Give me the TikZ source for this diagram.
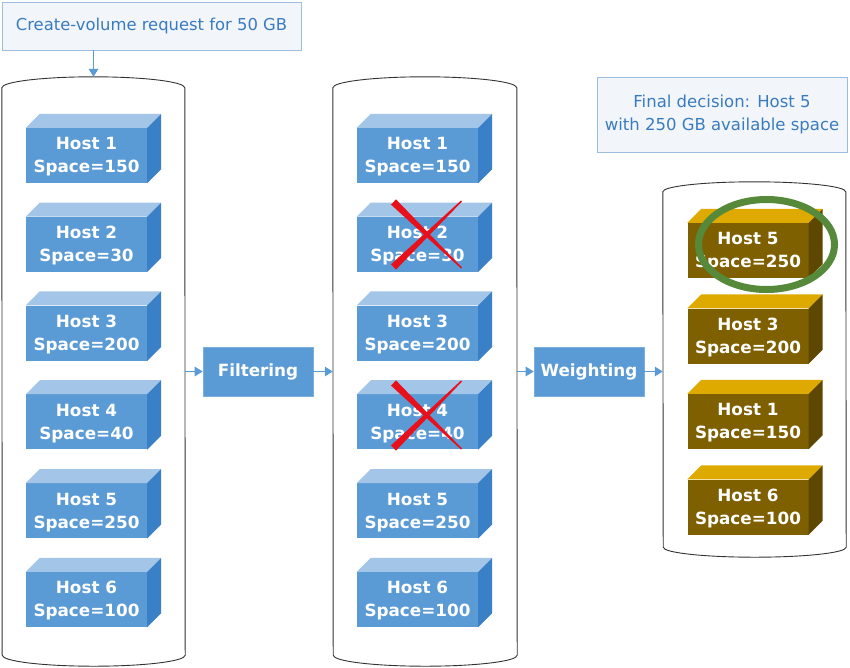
\documentclass[tikz,border=0pt]{standalone}
\usepackage{fontspec}
\setmainfont{DejaVu Sans}
\usetikzlibrary{arrows.meta,calc}
\definecolor{hbfront}{HTML}{5B9BD5}
\definecolor{hbtop}{HTML}{A2C5E8}
\definecolor{hbside}{HTML}{3A80C6}
\definecolor{hgfront}{HTML}{7F6000}
\definecolor{hgtop}{HTML}{DFAA00}
\definecolor{hgside}{HTML}{5E4700}
\definecolor{txtblue}{HTML}{3A7BBF}
\definecolor{boxborder}{HTML}{9DBDE0}
\definecolor{boxfill}{HTML}{F2F6FB}
\definecolor{arrblue}{HTML}{5B9BD5}
\definecolor{xred}{HTML}{E8101A}
\definecolor{okgreen}{HTML}{568A3A}
\definecolor{cylline}{HTML}{333333}

\newcommand{\hostcube}[6]{% name, x, y, label, palette prefix, unused
  \node[hostfront, fill=#5front] (#1) at (#2,#3) {};
  \fill[#5top] (#1.north west) -- ++(14,-14) -- ($(#1.north east)+(14,-14)$) -- (#1.north east) -- cycle;
  \fill[#5side] (#1.north east) -- ++(14,-14) -- ($(#1.south east)+(14,-14)$) -- (#1.south east) -- cycle;
  \node[hostlabel] (#1t) at ($(#1.center)+(0,1.5)$) {#4};
}
\newcommand{\taperstroke}[3]{% start, end, thick half width
  \fill[xred] ($(#1)!#3!90:(#2)$) -- ($(#2)!0.7pt!-90:(#1)$) -- ($(#2)!0.7pt!90:(#1)$) -- ($(#1)!#3!-90:(#2)$) -- cycle;
}

\begin{document}
\begin{tikzpicture}[x=1pt,y=-1pt,
  hostfront/.style={minimum width=121pt, minimum height=55pt, inner sep=0pt},
  hostlabel/.style={inner sep=0pt, align=center, text=white, font=\fontsize{16.8}{23}\selectfont\bfseries},
  infobox/.style={draw=boxborder, line width=0.8pt, fill=boxfill, inner sep=0pt, align=center,
    text=txtblue, font=\fontsize{16.5}{23}\selectfont},
  stepbox/.style={fill=hbfront, draw=hbfront!80!white, line width=0.6pt, minimum width=110pt,
    minimum height=49pt, inner sep=0pt, text=white, font=\fontsize{16.8}{20}\selectfont\bfseries},
  cylbody/.style={minimum width=#1, inner sep=0pt, draw=none},
  cylout/.style={draw=cylline, line width=0.9pt, fill=white},
  arr/.style={draw=arrblue, line width=1.4pt, -{Triangle[length=8pt,width=9.5pt]}}
]
\useasboundingbox (0,0) rectangle (850,667);

% request box
\node[infobox, minimum width=299pt, minimum height=48pt, font=\fontsize{16.4}{22}\selectfont] (req) at (151.5,26) {Create-volume request for 50 GB};
% final decision box
\node[infobox, minimum width=250pt, minimum height=75pt] (final) at (722,114.5) {Final decision: Host 5\\with 250 GB available space};

% cylinders
\node[cylbody=183pt, minimum height=567pt] (cyl1) at (93.5,371.5) {};
\node[cylbody=184pt, minimum height=567pt] (cyl2) at (425,371.5) {};
\node[cylbody=183pt, minimum height=355pt] (cyl3) at (754.5,369.5) {};
\draw[cylout] (cyl1.north west) arc[start angle=180,end angle=0,x radius=91.5pt,y radius=11pt]
  -- (cyl1.south east) arc[start angle=0,end angle=-180,x radius=91.5pt,y radius=11pt] -- cycle;
\draw[cylout] (cyl2.north west) arc[start angle=180,end angle=0,x radius=92pt,y radius=11pt]
  -- (cyl2.south east) arc[start angle=0,end angle=-180,x radius=92pt,y radius=11pt] -- cycle;
\draw[cylout] (cyl3.north west) arc[start angle=180,end angle=0,x radius=91.5pt,y radius=10pt]
  -- (cyl3.south east) arc[start angle=0,end angle=-180,x radius=91.5pt,y radius=10pt] -- cycle;
\coordinate (cyl1top) at ($(cyl1.north)+(0,-11)$);

% step boxes
\node[stepbox] (filt) at (258,371.5) {Filtering};
\node[stepbox] (weigh) at (589,371.5) {Weighting};

% arrows
\draw[arr] (req.south -| cyl1top) -- (cyl1top);
\draw[arr] (filt.west -| cyl1.east) -- (filt.west);
\draw[arr] (filt.east) -- (filt.east -| cyl2.west);
\draw[arr] (weigh.west -| cyl2.east) -- (weigh.west);
\draw[arr] (weigh.east) -- (weigh.east -| cyl3.west);

% hosts, column 1
\hostcube{a1}{86.5}{155.5}{Host 1\\Space=150}{hb}{}
\hostcube{a2}{86.5}{244.3}{Host 2\\Space=30}{hb}{}
\hostcube{a3}{86.5}{333.1}{Host 3\\Space=200}{hb}{}
\hostcube{a4}{86.5}{421.9}{Host 4\\Space=40}{hb}{}
\hostcube{a5}{86.5}{510.7}{Host 5\\Space=250}{hb}{}
\hostcube{a6}{86.5}{599.5}{Host 6\\Space=100}{hb}{}
% hosts, column 2
\hostcube{b1}{417.5}{155.5}{Host 1\\Space=150}{hb}{}
\hostcube{b2}{417.5}{244.3}{Host 2\\Space=30}{hb}{}
\hostcube{b3}{417.5}{333.1}{Host 3\\Space=200}{hb}{}
\hostcube{b4}{417.5}{421.9}{Host 4\\Space=40}{hb}{}
\hostcube{b5}{417.5}{510.7}{Host 5\\Space=250}{hb}{}
\hostcube{b6}{417.5}{599.5}{Host 6\\Space=100}{hb}{}
% hosts, column 3
\hostcube{c5}{748}{250.5}{Host 5\\Space=250}{hg}{}
\hostcube{c3}{748}{336}{Host 3\\Space=200}{hg}{}
\hostcube{c1}{748}{421.5}{Host 1\\Space=150}{hg}{}
\hostcube{c6}{748}{507}{Host 6\\Space=100}{hg}{}

% red crosses
\coordinate (x2a) at (393.5,202);
\coordinate (x2b) at (461.5,268);
\coordinate (x2c) at (393.5,267);
\coordinate (x2d) at (461.5,201);
\taperstroke{x2a}{x2b}{3.6pt}
\taperstroke{x2c}{x2d}{3.6pt}
\coordinate (x4a) at (393.5,383);
\coordinate (x4b) at (461.5,449);
\coordinate (x4c) at (393.5,448);
\coordinate (x4d) at (461.5,381);
\taperstroke{x4a}{x4b}{3.6pt}
\taperstroke{x4c}{x4d}{3.6pt}

% green selection ellipse
\draw[okgreen, line width=7pt] (766.5,244.5) ellipse[x radius=68pt, y radius=45pt];
\end{tikzpicture}
\end{document}
